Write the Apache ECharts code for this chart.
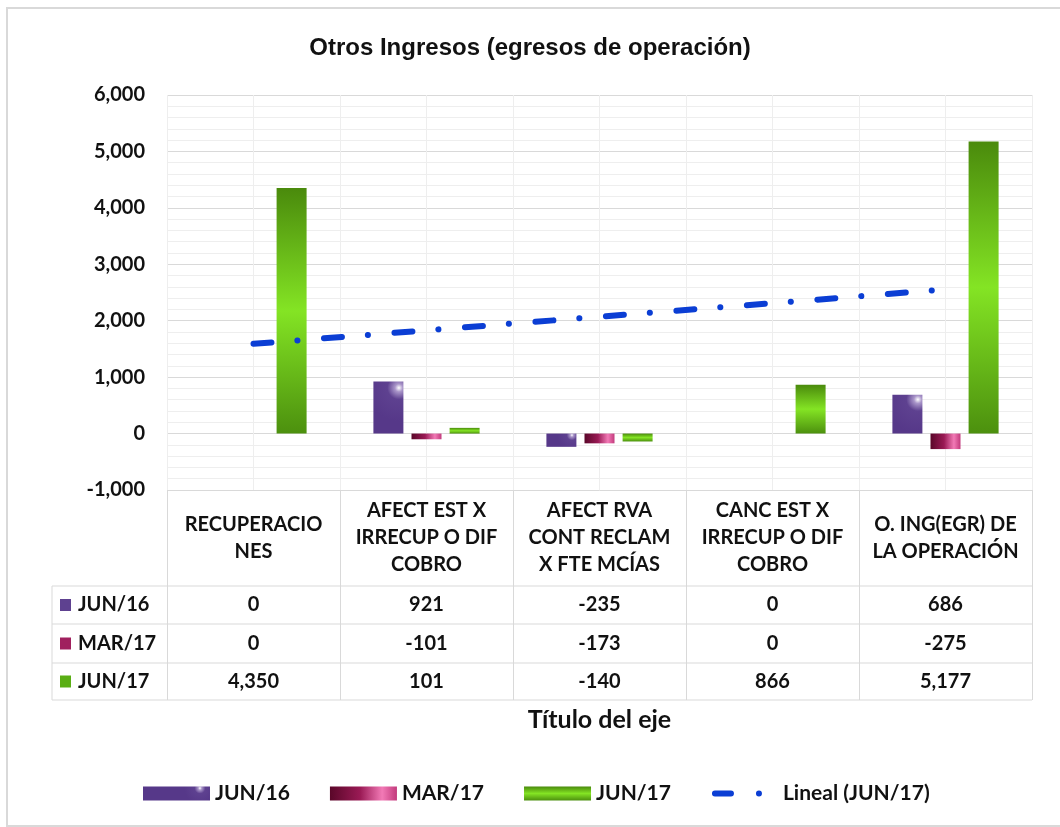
<!DOCTYPE html>
<html><head><meta charset="utf-8">
<script src="https://cdn.jsdelivr.net/npm/echarts@6/dist/echarts.min.js"></script>
<style>html,body{margin:0;padding:0;background:#fff}#c{width:1060px;height:827px}</style>
</head><body><div id="c"></div>
<script>
// ---- data ----
const categories = ['RECUPERACIO\nNES', 'AFECT EST X\nIRRECUP O DIF\nCOBRO', 'AFECT RVA\nCONT RECLAM\nX FTE MCÍAS', 'CANC EST X\nIRRECUP O DIF\nCOBRO', 'O. ING(EGR) DE\nLA OPERACIÓN'];
const seriesNames = ['JUN/16', 'MAR/17', 'JUN/17'];
const jun16 = [0, 921, -235, 0, 686];
const mar17 = [0, -101, -173, 0, -275];
const jun17 = [4350, 101, -140, 866, 5177];
const trendName = 'Lineal (JUN/17)';
const trendJun17 = [1590, 1830, 2070, 2310, 2555];
const yMin = -1000, yMax = 6000, yInterval = 1000;
const titleText = 'Otros Ingresos (egresos de operación)';
const axisTitle = 'Título del eje';

// ---- layout / style ----
const G = {left: 167, right: 28, top: 95, bottom: 337};
const W = 1060, H = 827;
const plotBottom = H - G.bottom;      // 490
const plotRight = W - G.right;        // 1032
const rowLines = [586, 624, 663, 700];
const tableLeft = 52;
const FONT = 'Lato';
const gridColor = '#d9d9d9';
const minorColor = '#eeeeee';
const blue = '#0b3ed4';

const purple = {type: 'radial', x: 0.85, y: 0.12, r: 1.1, colorStops: [
  {offset: 0, color: '#ffffff'}, {offset: 0.12, color: '#a995c9'}, {offset: 0.35, color: '#5e4190'}, {offset: 1, color: '#563889'}]};
const magenta = {type: 'linear', x: 0, y: 0, x2: 1, y2: 0, colorStops: [
  {offset: 0, color: '#5a0729'}, {offset: 0.45, color: '#9a1a55'}, {offset: 0.78, color: '#f27ab6'}, {offset: 1, color: '#c23a7c'}]};
const green = {type: 'linear', x: 0, y: 0, x2: 0, y2: 1, colorStops: [
  {offset: 0, color: '#4a8a0c'}, {offset: 0.5, color: '#84e424'}, {offset: 1, color: '#4c900e'}]};
const colors = [purple, magenta, green];
const swatchColors = ['#5e4190', '#a0205e', '#5aae14'];

// legend icon for the trend line: a dash and a dot in a 67x14 box
const trendIcon = 'path://M0,0 L0,0 M67,14 L67,14 ' +
  'M4,4 L20,4 A3,3 0 0 1 20,10 L4,10 A3,3 0 0 1 4,4 Z ' +
  'M45,7 A3,3 0 1 0 51,7 A3,3 0 1 0 45,7 Z';

const fmt = v => Number(v).toLocaleString('en-US');
const rows = [jun16, mar17, jun17];

const chart = echarts.init(document.getElementById('c'), null, {renderer: 'canvas'});

const xAxes = [
  { type: 'category', data: categories, gridIndex: 0, position: 'bottom',
    axisLine: {show: false, onZero: false},
    axisTick: {show: true, length: rowLines[3] - plotBottom, lineStyle: {color: gridColor}},
    splitLine: {show: true, lineStyle: {color: gridColor}},
    axisLabel: {interval: 0, margin: 48, verticalAlign: 'middle', lineHeight: 27,
      fontFamily: FONT, fontWeight: 'bold', fontSize: 20, color: '#111'} },
  { type: 'category', data: ['m0','m1','m2','m3','m4','m5','m6','m7','m8','m9'], gridIndex: 0, position: 'bottom',
    axisLine: {show: false}, axisTick: {show: false}, axisLabel: {show: false},
    splitLine: {show: true, lineStyle: {color: minorColor}} }
];
rows.forEach((r, i) => {
  xAxes.push({ type: 'category', data: r.map(fmt), gridIndex: 0, position: 'bottom',
    offset: (rowLines[i] + rowLines[i + 1]) / 2 - plotBottom,
    axisLine: {show: false, onZero: false}, axisTick: {show: false}, splitLine: {show: false},
    axisLabel: {interval: 0, margin: 0, verticalAlign: 'middle', fontFamily: FONT, fontWeight: 'bold', fontSize: 20, color: '#111'} });
});

const graphic = [
  {type: 'rect', shape: {x: 7, y: 8, width: 1070, height: 818}, style: {fill: 'none', stroke: '#d9d9d9', lineWidth: 2}, silent: true},
  {type: 'text', x: (G.left + plotRight) / 2, y: 720, style: {text: axisTitle, fontFamily: FONT, fontWeight: 'bold', fontSize: 25, fill: '#111', align: 'center', verticalAlign: 'middle'}}
];
rowLines.forEach(y => graphic.push({type: 'line', shape: {x1: tableLeft, y1: y, x2: plotRight, y2: y}, style: {stroke: gridColor, lineWidth: 1}, silent: true}));
graphic.push({type: 'line', shape: {x1: tableLeft, y1: rowLines[0], x2: tableLeft, y2: rowLines[3]}, style: {stroke: gridColor, lineWidth: 1}, silent: true});
seriesNames.forEach((n, i) => {
  const cy = (rowLines[i] + rowLines[i + 1]) / 2;
  graphic.push({type: 'rect', shape: {x: 60, y: cy - 6, width: 11, height: 12}, style: {fill: swatchColors[i]}});
  graphic.push({type: 'text', x: 78, y: cy, style: {text: n, fontFamily: FONT, fontWeight: 'bold', fontSize: 20, fill: '#111', verticalAlign: 'middle'}});
});

const series = rows.map((r, i) => ({
  name: seriesNames[i], type: 'bar', xAxisIndex: 0, data: r,
  barWidth: 30, barGap: '27%', itemStyle: {color: colors[i]}
}));
series.push({
  name: trendName, type: 'line', xAxisIndex: 0, data: trendJun17, symbol: 'none', z: 5,
  itemStyle: {color: blue},
  lineStyle: {color: blue, width: 6, type: [18, 26, 0.1, 26.6], cap: 'round'}
});

chart.setOption({
  animation: false,
  backgroundColor: '#fff',
  title: {text: titleText, left: 'center', top: 31,
    textStyle: {fontFamily: 'Liberation Sans', fontWeight: 'bold', fontSize: 24, color: '#111'}},
  grid: G,
  legend: {
    data: [
      {name: seriesNames[0], icon: 'rect'}, {name: seriesNames[1], icon: 'rect'},
      {name: seriesNames[2], icon: 'rect'}, {name: trendName, icon: trendIcon}
    ],
    left: 143, top: 783, padding: 0, itemWidth: 67, itemHeight: 14, itemGap: 40,
    textStyle: {fontFamily: FONT, fontWeight: 'bold', fontSize: 21, color: '#111'}
  },
  xAxis: xAxes,
  yAxis: {type: 'value', min: yMin, max: yMax, interval: yInterval,
    axisLine: {show: false}, axisTick: {show: false},
    axisLabel: {margin: 22, formatter: v => fmt(v), fontFamily: FONT, fontWeight: 'bold', fontSize: 20, color: '#111'},
    splitLine: {lineStyle: {color: gridColor}},
    minorTick: {show: false, splitNumber: 5},
    minorSplitLine: {show: true, lineStyle: {color: minorColor}}},
  graphic: graphic,
  series: series
});
</script></body></html>
